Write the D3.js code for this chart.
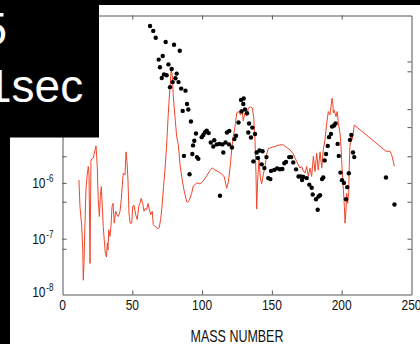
<!DOCTYPE html>
<html><head><meta charset="utf-8">
<script src="https://cdn.jsdelivr.net/npm/d3@7"></script>
<style>html,body{margin:0;padding:0;background:#fff;overflow:hidden}svg{display:block}</style>
</head><body><svg id="c" width="420" height="344"></svg>
<script>
// ---- data ----
const xTickValues = [0, 50, 100, 150, 200, 250];
const yDecadeExponents = [-8, -7, -6, -5, -4, -3];
const yLabelExponents = [-8, -7, -6];   // labels visible below the black overlay
const yMinorTicks = [1.5e-4, 2.1e-5, 3e-6, 4.6e-7, 6.6e-8];
const xTitle = "MASS NUMBER";
const overlayTop = "5";
const overlayBottom = "1sec";

const lineMass = [11.8,12.5,13.8,14.5,14.9,15.4,16.1,16.8,17.8,18.5,19.0,19.7,20.4,22.1,22.8,24.0,24.9,25.6,26.4,27.1,27.8,28.5,29.2,29.9,30.7,31.5,32.1,32.6,33.1,34.0,34.7,35.5,36.2,37.1,38.1,39.0,40.0,41.2,42.1,43.1,43.6,44.8,45.5,46.2,46.9,47.6,48.4,49.6,50.3,51.2,52.4,53.6,54.6,55.5,56.4,57.4,58.4,59.3,60.3,61.2,62.2,63.2,64.3,65.0,66.3,67.5,68.4,69.3,70.3,71.3,72.2,73.4,74.6,75.8,77.0,77.9,78.7,79.4,80.6,81.8,83.0,84.2,85.4,87.0,89.0,89.7,90.6,92.5,93.7,96.1,98.5,100.9,103.3,105.7,107.3,109.2,111.6,114.0,115.9,117.6,118.8,120.0,121.2,122.3,123.6,124.8,125.9,127.7,128.6,129.5,130.7,132.0,133.1,134.5,136.0,137.0,137.9,138.6,139.1,139.8,140.8,141.7,142.7,143.8,145.1,146.3,147.4,149.4,152.2,155.8,158.2,160.6,163.0,165.3,167.8,170.1,171.3,172.5,173.7,174.9,176.1,177.3,178.5,179.7,180.9,182.1,183.2,184.5,185.7,186.8,188.0,189.3,190.4,191.6,192.3,193.1,193.6,194.0,194.7,195.9,196.8,197.6,198.8,199.5,200.2,200.7,201.2,201.9,202.4,203.1,203.6,204.3,205.0,205.4,205.9,206.7,207.4,208.3,209.0,231.7,234.6,235.8,237.7];
const lineYield = [1.13e-6,3.8e-7,1.65e-7,6.3e-8,1.8e-8,3.6e-8,1.9e-7,7.5e-7,1.5e-6,1.96e-6,1.4e-6,3.6e-8,2.6e-6,2.8e-6,3.4e-6,4.6e-6,1.96e-6,5.0e-7,2.5e-7,5.7e-7,8.6e-7,3.8e-7,1.65e-7,9.5e-8,5.5e-8,4.7e-8,8.4e-8,6.3e-8,1.44e-7,1.1e-7,1.65e-7,3.8e-7,4.3e-7,1.9e-7,3.1e-7,2.7e-7,2.5e-7,3.1e-7,5.0e-7,1.13e-6,1.5e-6,1.4e-6,3.6e-6,2.4e-6,1.13e-6,2.9e-7,1.9e-7,1.9e-7,3.8e-7,4.0e-7,2.7e-7,2.2e-7,3.8e-7,4.3e-7,5.3e-7,4.3e-7,3.1e-7,3.5e-7,3.3e-7,4.3e-7,3.3e-7,2.7e-7,3.1e-7,1.8e-7,1.65e-7,1.6e-7,1.5e-7,1.6e-7,2.2e-7,3.8e-7,7.5e-7,1.7e-6,4.8e-6,1.8e-5,5.2e-5,1.1e-4,7.9e-5,3.5e-5,1.5e-5,6.7e-6,4.8e-6,2.1e-6,1.3e-6,7.5e-7,4.6e-7,4.5e-7,4.8e-7,6.5e-7,8.8e-7,1.0e-6,9.6e-7,1.09e-6,1.34e-6,1.67e-6,1.86e-6,1.7e-6,1.6e-6,1.45e-6,1.28e-6,8.0e-7,1.04e-6,1.84e-6,3.9e-6,6.7e-6,1.02e-5,1.8e-5,1.9e-5,1.65e-5,2.1e-5,1.3e-5,1.8e-5,1.58e-5,2.2e-5,2.3e-5,2.2e-5,1.46e-5,5.9e-6,1.4e-6,3.4e-7,1.13e-6,2.6e-6,1.23e-6,9.6e-7,1.4e-6,1.96e-6,3.3e-6,4.1e-6,4.3e-6,4.5e-6,4.8e-6,4.8e-6,4.3e-6,3.9e-6,3.3e-6,2.4e-6,1.84e-6,1.96e-6,1.64e-6,1.5e-6,1.96e-6,1.3e-6,1.84e-6,1.3e-6,3.0e-6,1.6e-6,3.4e-6,1.7e-6,3.6e-6,1.84e-6,3.9e-6,5.9e-6,1.17e-5,1.9e-5,1.65e-5,2.3e-5,3.3e-5,2.7e-5,1.8e-5,2.0e-5,1.54e-5,1.9e-5,1.17e-5,7.8e-6,4.5e-6,1.96e-6,1.13e-6,7.5e-7,3.8e-7,1.9e-7,3.3e-7,6.5e-7,4.3e-7,6.5e-7,1.96e-6,4.5e-6,7.2e-6,5.9e-6,7.8e-6,1.09e-5,3.7e-6,3.7e-6,3.2e-6,2.0e-6];

const dotMass = [62.7,65.0,66.8,73.9,79.9,84.0,71.8,68.9,69.8,75.9,78.2,72.7,74.6,71.1,81.8,80.9,78.9,83.1,77.0,85.0,88.1,89.2,90.1,86.1,92.0,95.6,94.4,93.5,87.0,93.0,96.3,97.3,91.0,99.7,100.9,102.1,103.3,104.7,106.2,108.7,108.0,110.5,112.5,114.6,115.2,116.8,117.8,119.5,119.3,121.4,123.1,124.3,112.8,126.1,128.2,130.7,129.5,127.9,129.8,132.2,133.6,133.1,136.0,135.0,137.9,136.7,139.1,141.1,143.3,140.0,142.7,144.6,146.1,147.4,148.9,149.4,151.7,153.7,155.8,157.5,158.9,160.1,162.4,163.8,165.3,167.3,169.1,170.8,171.6,172.5,174.9,176.8,178.5,179.2,181.6,183.4,184.5,182.8,185.9,186.8,187.8,188.8,190.0,190.9,192.3,193.1,194.5,195.6,197.1,197.9,199.1,200.2,201.6,203.1,204.0,205.1,205.9,206.9,208.1,209.0,231.7,237.8];
const dotYield = [6.5e-4,5.3e-4,4.0e-4,3.35e-4,3.0e-4,2.34e-4,1.88e-4,1.62e-4,1.18e-4,1.33e-4,1.10e-4,8.8e-5,8.5e-5,7.6e-5,9.1e-5,7.5e-5,6.4e-5,6.4e-5,5.2e-5,4.9e-5,4.5e-5,2.6e-5,2.07e-5,1.95e-5,1.26e-5,7.7e-6,5.7e-6,4.7e-6,3.05e-6,3.3e-6,2.9e-6,2.7e-6,1.43e-6,6.6e-6,7.2e-6,8.1e-6,8.65e-6,7.8e-6,5.3e-6,5.8e-6,4.5e-6,4.9e-6,5.0e-6,4.9e-6,3.5e-6,5.3e-6,8.0e-6,8.55e-6,4.9e-6,4.3e-6,6.1e-6,7.0e-6,5.9e-7,1.21e-5,1.91e-5,2.07e-5,2.6e-5,3.07e-5,3.26e-5,1.77e-5,1.16e-5,8.0e-6,9.8e-6,6.5e-6,7.5e-6,2.43e-6,3.5e-6,3.8e-6,3.7e-6,2.8e-6,2.15e-6,1.84e-6,2.9e-6,1.22e-6,1.17e-6,1.64e-6,1.71e-6,1.82e-6,1.76e-6,1.78e-6,2.25e-6,2.38e-6,2.9e-6,2.9e-6,2.33e-6,1.75e-6,1.30e-6,1.3e-6,1.13e-6,1.28e-6,1.22e-6,9.3e-7,8.2e-7,6.2e-7,5.1e-7,5.7e-7,6.0e-7,3.3e-7,1.17e-6,1.25e-6,2.53e-6,3.3e-6,4.6e-6,6.6e-6,7.55e-6,1.02e-5,1.07e-5,1.16e-5,5.0e-6,3.05e-6,1.53e-6,1.12e-6,1.0e-6,5.1e-7,8.4e-7,1.49e-6,5.9e-6,7.2e-6,3.5e-6,2.9e-6,1.25e-6,4.1e-7];

// ---- drawing ----
const svg = d3.select('#c');
svg.append('rect').attr('width', 420).attr('height', 344).attr('fill', '#fff');

const x = d3.scaleLinear().domain([0, 250]).range([62.5, 411.5]);
const y = d3.scaleLog().domain([1e-8, 1e-3]).range([294.5, 15.5]);
const axisColor = '#555';
const font = 'Liberation Sans, Arial, Helvetica, sans-serif';

svg.append('clipPath').attr('id', 'plotclip').append('rect')
  .attr('x', x(0)).attr('y', y(1e-3)).attr('width', x(250) - x(0)).attr('height', y(1e-8) - y(1e-3));

// red line
const lineData = lineMass.map((m, i) => ({m, v: lineYield[i]}));
svg.append('path').datum(lineData)
  .attr('clip-path', 'url(#plotclip)')
  .attr('fill', 'none').attr('stroke', '#f2452a').attr('stroke-width', 1)
  .attr('stroke-linejoin', 'round')
  .attr('d', d3.line().x(d => x(d.m)).y(d => y(d.v)));

// dots
const dotData = dotMass.map((m, i) => ({m, v: dotYield[i]}));
svg.append('g').selectAll('circle').data(dotData).join('circle')
  .attr('cx', d => x(d.m)).attr('cy', d => y(d.v)).attr('r', 2.2).attr('fill', '#000');

// axes (ticks point inward)
const xInner = xTickValues.filter(v => v > 0 && v < 250);
const yTickVals = yDecadeExponents.filter(e => e > -8 && e < -3).map(e => Math.pow(10, e)).concat(yMinorTicks);
function styleAxis(g) {
  g.selectAll('path').attr('stroke', axisColor).attr('stroke-width', 1);
  g.selectAll('line').attr('stroke', axisColor).attr('stroke-width', 1);
}
svg.append('g').attr('transform', `translate(0,${y(1e-8)})`)
  .call(d3.axisBottom(x).tickValues(xInner).tickSizeInner(-4).tickSizeOuter(0).tickFormat('')).call(styleAxis);
svg.append('g').attr('transform', `translate(0,${y(1e-3)})`)
  .call(d3.axisTop(x).tickValues(xInner).tickSizeInner(-4).tickSizeOuter(0).tickFormat('')).call(styleAxis);
svg.append('g').attr('transform', `translate(${x(0)},0)`)
  .call(d3.axisLeft(y).tickValues(yTickVals).tickSizeInner(-4).tickSizeOuter(0).tickFormat('')).call(styleAxis);
svg.append('g').attr('transform', `translate(${x(250)},0)`)
  .call(d3.axisRight(y).tickValues(yTickVals).tickSizeInner(-4).tickSizeOuter(0).tickFormat('')).call(styleAxis);

// x tick labels
const sx = 0.8;
xTickValues.forEach(v => {
  svg.append('g').attr('transform', `translate(${x(v)},310) scale(${sx},1)`)
    .append('text').attr('text-anchor', 'middle').attr('font-family', font)
    .attr('font-size', 15).attr('fill', '#111').text(v);
});

// y tick labels 10^n
yLabelExponents.forEach(e => {
  const ty = y(Math.pow(10, e));
  const by = Math.min(ty + 5, 296.5);
  const g = svg.append('g').attr('transform', `translate(45.5,${by}) scale(${sx},1)`);
  g.append('text').attr('text-anchor', 'end').attr('font-family', font)
    .attr('font-size', 15).attr('fill', '#111').text('10');
  g.append('text').attr('x', 1).attr('y', -6).attr('text-anchor', 'start').attr('font-family', font)
    .attr('font-size', 10).attr('fill', '#111').text(String(e));
});

// x title
svg.append('g').attr('transform', `translate(${(x(0) + x(250)) / 2},341.5) scale(0.78,1)`)
  .append('text').attr('text-anchor', 'middle').attr('font-family', font)
  .attr('font-size', 16).attr('fill', '#111').text(xTitle);

// black overlay (cropped slide)
svg.append('rect').attr('x', 0).attr('y', 0).attr('width', 420).attr('height', 5).attr('fill', '#000');
svg.append('rect').attr('x', 0).attr('y', 0).attr('width', 10).attr('height', 344).attr('fill', '#000');
svg.append('rect').attr('x', 0).attr('y', 0).attr('width', 99).attr('height', 137.5).attr('fill', '#000');
svg.append('text').attr('x', 7).attr('y', 45).attr('text-anchor', 'end').attr('font-family', font)
  .attr('font-size', 46).attr('fill', '#fff').text(overlayTop);
svg.append('text').attr('x', -14).attr('y', 102).attr('font-family', font)
  .attr('font-size', 46).attr('fill', '#fff').text(overlayBottom);
</script></body></html>
